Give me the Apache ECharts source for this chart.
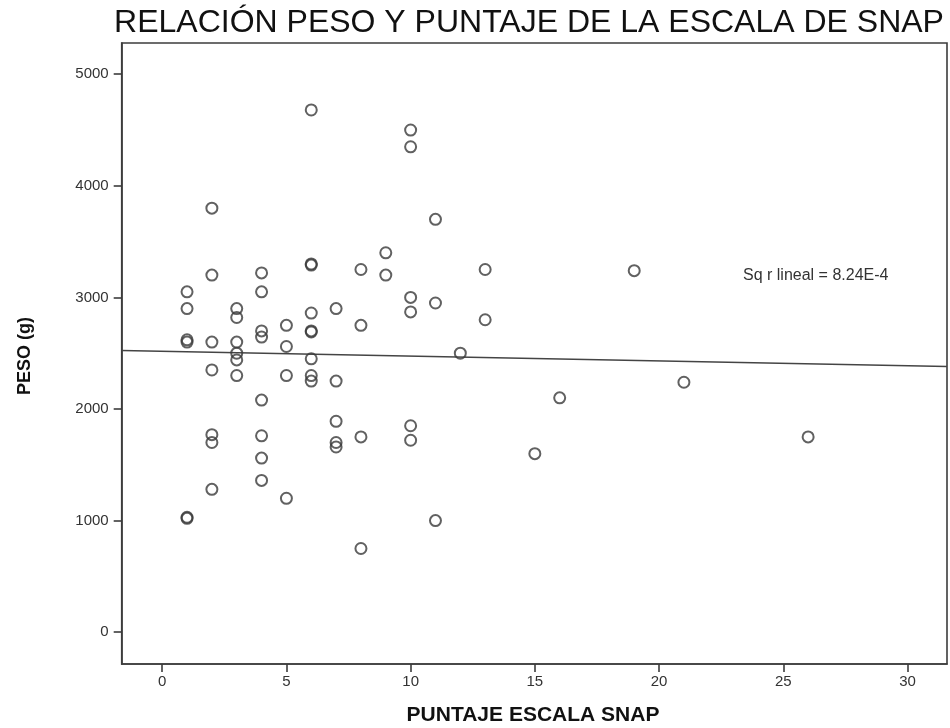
<!DOCTYPE html>
<html>
<head>
<meta charset="utf-8">
<script src="https://cdn.jsdelivr.net/npm/echarts@6/dist/echarts.min.js"></script>
<style>
html,body{margin:0;padding:0;background:#fff;}
#chart{width:950px;height:728px;}
</style>
</head>
<body>
<div id="chart"></div>
<script>
// Data
var snapScores = [
  1,1,1,1,1,1,
  2,2,2,2,2,2,2,
  3,3,3,3,3,3,
  4,4,4,4,4,4,4,4,
  5,5,5,5,
  6,6,6,6,6,6,6,6,6,
  7,7,7,7,7,
  8,8,8,8,
  9,9,
  10,10,10,10,10,10,
  11,11,11,
  12,
  13,13,
  15,16,19,21,26
];
var pesoValues = [
  1020,1030,2600,2620,2900,3050,
  3800,3200,2600,2350,1770,1700,1280,
  2900,2820,2600,2500,2440,2300,
  3220,3050,2700,2645,2080,1760,1560,1360,
  2750,2560,2300,1200,
  4680,3300,3290,2860,2700,2690,2450,2300,2250,
  2900,2250,1890,1700,1660,
  3250,2750,1750,750,
  3400,3200,
  4500,4350,3000,2870,1850,1720,
  3700,2950,1000,
  2500,
  3250,2800,
  1600,2100,3240,2240,1750
];
var fitLineX = [-1.63, 31.59];
var fitLineY = [2525, 2381];
var xTicks = [0,5,10,15,20,25,30];
var yTicks = [0,1000,2000,3000,4000,5000];
var titleText = 'RELACIÓN PESO Y PUNTAJE DE LA ESCALA DE SNAP';
var xName = 'PUNTAJE ESCALA SNAP';
var yName = 'PESO (g)';
var annotation = 'Sq r lineal = 8.24E-4';

var scatterData = snapScores.map(function(x,i){ return [x, pesoValues[i]]; });
var lineData = fitLineX.map(function(x,i){ return [x, fitLineY[i]]; });

var chart = echarts.init(document.getElementById('chart'), null, {renderer:'canvas'});
var font = '"Liberation Sans", Arial, sans-serif';
chart.setOption({
  backgroundColor:'#fff',
  animation:false,
  grid:{left:121.7, right:3, top:43, bottom:64, show:true, borderColor:'#3c3c3c', borderWidth:1.6, backgroundColor:'transparent'},
  xAxis:{
    type:'value', min:-1.63, max:31.59,
    splitLine:{show:false},
    axisLine:{show:true, onZero:false, lineStyle:{color:'#3c3c3c', width:1.6}},
    axisTick:{show:true, length:8, lineStyle:{color:'#3c3c3c', width:1.6}, customValues:xTicks},
    axisLabel:{customValues:xTicks, color:'#333', fontSize:15, fontFamily:font, margin:10,
      formatter:function(v){ return String(v); }}
  },
  yAxis:{
    type:'value', min:-285, max:5280,
    splitLine:{show:false},
    axisLine:{show:true, onZero:false, lineStyle:{color:'#3c3c3c', width:1.6}},
    axisTick:{show:true, length:8, lineStyle:{color:'#3c3c3c', width:1.6}, customValues:yTicks},
    axisLabel:{customValues:yTicks, color:'#333', fontSize:15, fontFamily:font, margin:13,
      formatter:function(v){ return String(v); }}
  },
  series:[
    {
      type:'line', data:lineData, symbol:'none', silent:true,
      lineStyle:{color:'#444', width:1.5}, z:2
    },
    {
      type:'scatter', data:scatterData, symbol:'circle', symbolSize:11,
      itemStyle:{color:'rgba(255,255,255,0)', borderColor:'#3a3a3a', borderWidth:2}, z:3
    }
  ],
  graphic:[
    {type:'text', x:529, y:23, style:{text:titleText, font:'32px '+font, fill:'#111', textAlign:'center', textVerticalAlign:'middle'}},
    {type:'text', x:533, y:715, style:{text:xName, font:'bold 21px '+font, fill:'#111', textAlign:'center', textVerticalAlign:'middle'}},
    {type:'text', x:25, y:356, rotation:Math.PI/2, style:{text:yName, font:'bold 18px '+font, fill:'#111', textAlign:'center', textVerticalAlign:'middle'}},
    {type:'text', x:743, y:276, style:{text:annotation, font:'16px '+font, fill:'#333', textVerticalAlign:'middle'}}
  ]
});
</script>
</body>
</html>
